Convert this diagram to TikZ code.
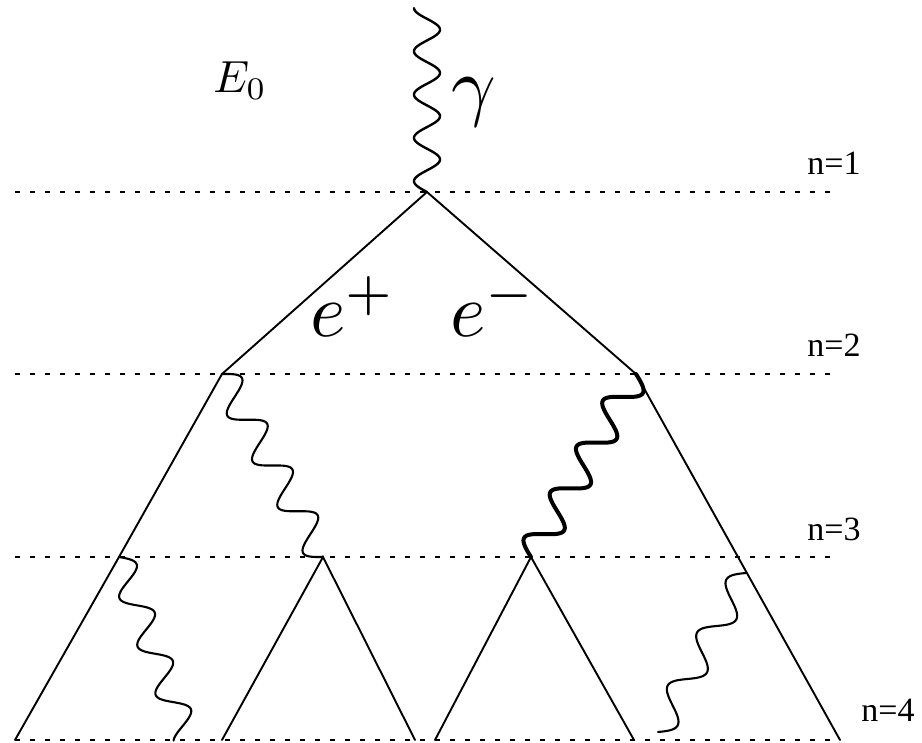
\documentclass[tikz,border=0pt]{standalone}
\usepackage{fontspec}
\usepackage{graphicx}
\setmainfont{Liberation Serif}
\usetikzlibrary{calc}
\newcommand\photonline[6]{%
  \draw[#1] let \p1=(#2), \p2=(#3), \n1={veclen(\x2-\x1,\y2-\y1)} in
    plot[variable=\t, domain=0:1, samples=260]
    ({\x1+\t*(\x2-\x1)-#5*sin(#6+\t*#4*360)*(\y2-\y1)/\n1},
     {\y1+\t*(\y2-\y1)+#5*sin(#6+\t*#4*360)*(\x2-\x1)/\n1});%
}
\tikzset{
  lepton/.style={line width=1.9pt, line cap=round},
  gline/.style={line width=2.1pt, line join=round, line cap=round},
  gthick/.style={line width=4pt, line join=round, line cap=round},
  level/.style={dash pattern=on 5pt off 10pt, line width=1.6pt},
  nlab/.style={font=\fontsize{34}{36}\selectfont, inner sep=0pt, anchor=base},
  mlab/.style={inner sep=0pt}
}
\begin{document}
\begin{tikzpicture}[x=1pt,y=1pt]
\useasboundingbox (0,0) rectangle (922,-743);
% vertices
\coordinate (top) at (427,-8);
\coordinate (v1) at (427,-192);
\coordinate (v2l) at (222,-374);
\coordinate (v2r) at (636,-374);
\coordinate (v3a) at (119,-557);
\coordinate (v3b) at (323,-557);
\coordinate (v3c) at (531,-557);
\coordinate (v3d) at (738,-557);
\coordinate (b1) at (15,-740);
\coordinate (b2) at (222,-740);
\coordinate (b3) at (415,-740);
\coordinate (b4) at (435,-740);
\coordinate (b5) at (634,-740);
\coordinate (b6) at (840,-740);
\coordinate (g1end) at (186,-736);
\coordinate (g2start) at (746,-573);
\coordinate (g2end) at (658,-732);
% level lines
\coordinate (l1a) at (15,-192); \coordinate (l1b) at (835,-192);
\coordinate (l2a) at (15,-374); \coordinate (l2b) at (835,-374);
\coordinate (l3a) at (15,-557); \coordinate (l3b) at (835,-557);
\coordinate (l4a) at (15,-740); \coordinate (l4b) at (840,-740);
\draw[level] (l1a) -- (l1b);
\draw[level] (l2a) -- (l2b);
\draw[level] (l3a) -- (l3b);
\draw[level] (l4a) -- (l4b);
% leptons
\draw[lepton] (v1) -- (v2l) -- (v3a) -- (b1);
\draw[lepton] (v1) -- (v2r) -- (v3d) -- (b6);
\draw[lepton] (b2) -- (v3b) -- (b3);
\draw[lepton] (b4) -- (v3c) -- (b5);
% photons
\photonline{gline, line width=2.4pt}{top}{v1}{4.25}{13}{-90}
\photonline{gline}{v2l}{v3b}{4}{15.5}{0}
\photonline{gthick}{v2r}{v3c}{4}{15.5}{0}
\photonline{gline}{v3a}{g1end}{3.7}{14}{0}
\photonline{gline}{g2start}{g2end}{3}{14}{180}
% labels
\node[mlab] (E0) at (240,-81) {\scalebox{4.5}{$E_0$}};
\node[mlab] (gam) at (474,-102) {\scalebox{7.8}{$\gamma$}};
\node[mlab, anchor=base west] (ep) at (310,-337) {\scalebox{7.6}{$e^+$}};
\node[mlab, anchor=base west] (em) at (450,-337) {\scalebox{7.6}{$e^-$}};
\node[nlab] (n1) at (834,-175) {n=1};
\node[nlab] (n2) at (834,-357) {n=2};
\node[nlab] (n3) at (834,-540) {n=3};
\node[nlab] (n4) at (888,-721) {n=4};
\end{tikzpicture}
\end{document}
